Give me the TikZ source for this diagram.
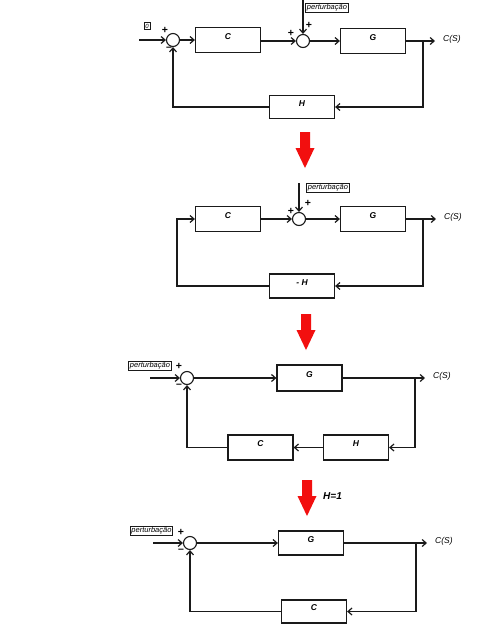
\documentclass[tikz,border=0pt]{standalone}
\usepackage{fontspec}
\setmainfont{Liberation Sans}
\usetikzlibrary{arrows.meta,positioning}
\definecolor{ArrowRed}{HTML}{F20F0F}
\definecolor{LineGray}{HTML}{1A1A1A}

\tikzset{
  block/.style={draw=LineGray,line width=1.2pt,minimum width=65pt,minimum height=25pt,
    inner sep=0pt,text height=7pt,text depth=9pt,
    font=\bfseries\itshape\fontsize{8.5}{9}\selectfont},
  sumnode/.style={draw=LineGray,circle,line width=1.1pt,minimum size=13pt,inner sep=0pt},
  tag/.style={draw=LineGray,line width=0.6pt,inner sep=1.2pt,
    font=\itshape\fontsize{7.5}{8}\selectfont},
  sign/.style={inner sep=0pt,font=\bfseries\fontsize{10.5}{11}\selectfont},
  outlabel/.style={inner sep=0pt,font=\itshape\fontsize{8.5}{9}\selectfont},
  wire/.style={draw=LineGray,line width=1.2pt,-{Straight Barb[length=4pt,width=7pt]}},
}

\begin{document}
\begin{tikzpicture}[x=1pt,y=-1pt]
  \useasboundingbox[fill=white] (0,0) rectangle (494,625);

  % loop 1
  \node[tag,font=\itshape\fontsize{6}{6}\selectfont] (zero) at (147,26) {0};
  \coordinate (in1) at (139,40);
  \node[sumnode] (s1) at (173,40) {};
  \node[block] (C1) at (228,40) {C};
  \node[sumnode] (s2) at (303,41) {};
  \node[tag] (p1) at (327,8) {perturbação};
  \coordinate (p1in) at (303,0);
  \node[block] (G1) at (373,41) {G};
  \coordinate (b1) at (423,41);
  \coordinate (o1) at (435,41);
  \node[outlabel,right=8pt of o1,yshift=2pt] (cs1) {C(S)};
  \node[block,minimum height=23pt] (H1) at (302,107) {H};
  \node[sign] at (165,30) {+};
  \node[sign] at (169,49) {–};
  \node[sign] at (291,33) {+};
  \node[sign] at (309,25) {+};
  \draw[wire] (in1) -- (s1.west);
  \draw[wire] (s1.east) -- (C1.west);
  \draw[wire] (C1.east |- s2) -- (s2.west);
  \draw[wire] (p1in) -- (s2.north);
  \draw[wire] (s2.east) -- (G1.west);
  \draw[wire] (G1.east) -- (o1);
  \draw[wire] (b1) |- (H1.east);
  \draw[wire] (H1.west) -| (s1.south);

  % loop 2
  \node[block] (C2) at (228,219) {C};
  \node[sumnode] (s3) at (299,219) {};
  \node[tag] (p2) at (328,188) {perturbação};
  \coordinate (p2in) at (299,183);
  \node[block] (G2) at (373,219) {G};
  \coordinate (b2) at (423,219);
  \coordinate (o2) at (436,219);
  \node[outlabel,right=8pt of o2,yshift=2pt] (cs2) {C(S)};
  \node[block,minimum height=24pt] (mH) at (302,286) {- H};
  \coordinate (f2) at (177,219);
  \node[sign] at (291,211) {+};
  \node[sign] at (308,203) {+};
  \draw[wire] (C2.east) -- (s3.west);
  \draw[wire] (p2in) -- (s3.north);
  \draw[wire] (s3.east) -- (G2.west);
  \draw[wire] (G2.east) -- (o2);
  \draw[wire] (b2) |- (mH.east);
  \draw[wire] (mH.west) -| (f2) -- (C2.west);

  % loop 3
  \node[tag] (p3) at (150,365.5) {perturbação};
  \coordinate (in3) at (150,378);
  \node[sumnode] (s4) at (187,378) {};
  \node[block,minimum height=26pt] (G3) at (309.5,378) {G};
  \coordinate (b3) at (415,378);
  \coordinate (o3) at (425,378);
  \node[outlabel,right=8pt of o3,yshift=2pt] (cs3) {C(S)};
  \node[block] (H3) at (356,447.5) {H};
  \node[block] (C3) at (260.5,447.5) {C};
  \node[sign] at (179,366) {+};
  \node[sign] at (179,386) {–};
  \draw[wire] (in3) -- (s4.west);
  \draw[wire] (s4.east) -- (G3.west);
  \draw[wire] (G3.east) -- (o3);
  \draw[wire] (b3) |- (H3.east);
  \draw[wire] (H3.west) -- (C3.east);
  \draw[wire] (C3.west) -| (s4.south);

  % loop 4, H=1
  \node[tag] (p4) at (151.5,531) {perturbação};
  \coordinate (in4) at (153,543);
  \node[sumnode] (s5) at (190,543) {};
  \node[block,minimum height=24pt] (G4) at (311,543) {G};
  \coordinate (b4) at (416,543);
  \coordinate (o4) at (427,543);
  \node[outlabel,right=8pt of o4,yshift=2pt] (cs4) {C(S)};
  \node[block,minimum height=23pt] (C4) at (314,611.5) {C};
  \node[sign] at (181,532) {+};
  \node[sign] at (181,551) {–};
  \draw[wire] (in4) -- (s5.west);
  \draw[wire] (s5.east) -- (G4.west);
  \draw[wire] (G4.east) -- (o4);
  \draw[wire] (b4) |- (C4.east);
  \draw[wire] (C4.west) -| (s5.south);

  % red steps
  \foreach \ax/\ay in {305/132,306/314,307/480}
    \fill[ArrowRed] (\ax-5,\ay) -- (\ax+5,\ay) -- (\ax+5,\ay+16) -- (\ax+9.5,\ay+16)
      -- (\ax,\ay+36) -- (\ax-9.5,\ay+16) -- (\ax-5,\ay+16) -- cycle;
  \node[anchor=west,inner sep=0pt,font=\bfseries\itshape\fontsize{10}{10}\selectfont]
    (hone) at (323,496) {H=1};
\end{tikzpicture}
\end{document}
